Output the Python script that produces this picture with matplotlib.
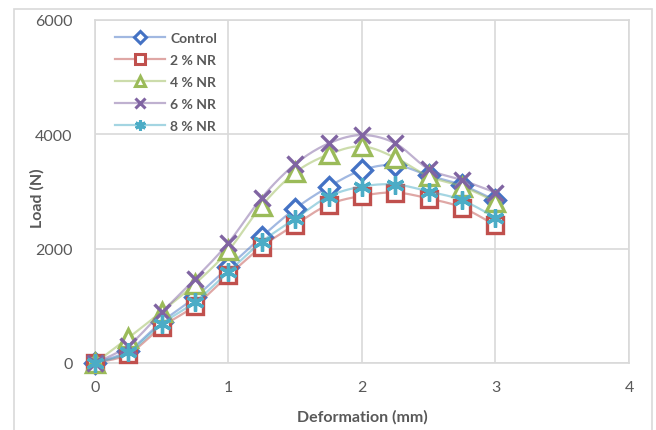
import numpy as np
import matplotlib
matplotlib.use("Agg")
import matplotlib.pyplot as plt
from matplotlib.patches import Rectangle
from matplotlib.lines import Line2D
from matplotlib.legend_handler import HandlerTuple

# ---- data ----
deformation = [0, 0.25, 0.5, 0.75, 1.0, 1.25, 1.5, 1.75, 2.0, 2.25, 2.5, 2.75, 3.0]
control = [0, 216, 719, 1152, 1678, 2210, 2701, 3082, 3374, 3462, 3280, 3110, 2847]
nr2 = [0, 158, 631, 1005, 1532, 2035, 2420, 2771, 2924, 2982, 2877, 2719, 2409]
nr4 = [0, 440, 900, 1386, 1970, 2754, 3333, 3648, 3789, 3590, 3263, 3087, 2824]
nr6 = [0, 304, 889, 1473, 2105, 2894, 3480, 3841, 3987, 3841, 3391, 3198, 2982]
nr8 = [0, 187, 684, 1070, 1596, 2122, 2526, 2912, 3087, 3122, 3000, 2847, 2543]
labels = ["Control", "2 % NR", "4 % NR", "6 % NR", "8 % NR"]
x_ticks = [0, 1, 2, 3, 4]
y_ticks = [0, 2000, 4000, 6000]

series = [control, nr2, nr4, nr6, nr8]
colors = ["#4472C4", "#C0504D", "#9BBB59", "#8064A2", "#4BACC6"]
markers = ["D", "s", "^", "x", (6, 2, 0)]
msizes = [10, 12, 13, 12, 13]

plt.rcParams["font.family"] = ["Lato", "DejaVu Sans"]
gray = "#595959"


def smooth(x, y, n=24):
    x = np.asarray(x, float)
    y = np.asarray(y, float)
    px = np.concatenate([[x[0]], x, [x[-1]]])
    py = np.concatenate([[y[0]], y, [y[-1]]])
    xs, ys = [], []
    for i in range(1, len(px) - 2):
        p0x, p1x, p2x, p3x = px[i - 1], px[i], px[i + 1], px[i + 2]
        p0y, p1y, p2y, p3y = py[i - 1], py[i], py[i + 1], py[i + 2]
        c1x, c1y = p1x + (p2x - p0x) / 6, p1y + (p2y - p0y) / 6
        c2x, c2y = p2x - (p3x - p1x) / 6, p2y - (p3y - p1y) / 6
        t = np.linspace(0, 1, n, endpoint=False)
        b0 = (1 - t) ** 3
        b1 = 3 * (1 - t) ** 2 * t
        b2 = 3 * (1 - t) * t ** 2
        b3 = t ** 3
        xs.append(b0 * p1x + b1 * c1x + b2 * c2x + b3 * p2x)
        ys.append(b0 * p1y + b1 * c1y + b2 * c2y + b3 * p2y)
    xs.append([x[-1]])
    ys.append([y[-1]])
    return np.concatenate(xs), np.concatenate(ys)


fig = plt.figure(figsize=(6.56, 4.31), dpi=100)
ax = fig.add_axes([95 / 656, 1 - 364 / 431, (629 - 95) / 656, (364 - 21) / 431])

# outer chart frame
fig.patches.append(Rectangle((14 / 656, -0.05), (652 - 14) / 656, 1.05 - 10 / 431,
                             transform=fig.transFigure, fill=False,
                             edgecolor="#D9D9D9", linewidth=1.2))

handles = []
for i, (vals, c, m, ms, lab) in enumerate(zip(series, colors, markers, msizes, labels)):
    fc = "white" if m in ("D", "s", "^") else c
    sx, sy = smooth(deformation, vals)
    ax.plot(sx, sy, color=c, alpha=0.5, linewidth=1.6, zorder=3 + 2 * i, clip_on=False)
    ax.plot(deformation, vals, linestyle="none", marker=m, markersize=ms,
            markerfacecolor=fc, markeredgecolor=c, markeredgewidth=2.4,
            zorder=4 + 2 * i, clip_on=False)
    hl = Line2D([], [], color=c, alpha=0.5, linewidth=1.6)
    hm = Line2D([], [], linestyle="none", marker=m, markersize=ms * 0.6,
                markerfacecolor=fc, markeredgecolor=c, markeredgewidth=2.2)
    handles.append((hl, hm))

ax.set_xlim(0, 4)
ax.set_ylim(0, 6000)
ax.set_xticks(x_ticks)
ax.set_yticks(y_ticks)
ax.grid(True, color="#D9D9D9", linewidth=1.2)
ax.set_axisbelow(True)
for s in ax.spines.values():
    s.set_color("#D9D9D9")
    s.set_linewidth(1.2)
ax.tick_params(length=0, labelsize=11.5, labelcolor=gray, pad=12)
ax.tick_params(axis="y", pad=16)
ax.set_xlabel("Deformation (mm)", fontsize=11.5, fontweight="bold", color=gray)
ax.set_ylabel("Load (N)", fontsize=11.5, fontweight="bold", color=gray)
ax.xaxis.set_label_coords(0.5, -(417 - 364) / 343, transform=ax.transAxes)
ax.yaxis.set_label_coords((37 - 95) / 534, (364 - 198) / 343, transform=ax.transAxes)
ax.xaxis.label.set_va("center")
ax.yaxis.label.set_va("center")

leg = ax.legend(handles=handles, labels=labels, loc="upper left",
                bbox_to_anchor=(105 / 656, 1 - 23 / 431),
                bbox_transform=fig.transFigure, frameon=False,
                handler_map={tuple: HandlerTuple(ndivide=1, pad=0)},
                handlelength=3.6, handletextpad=0.4, labelspacing=0.72,
                prop={"size": 10, "weight": "bold"}, borderpad=0.2)
for t in leg.get_texts():
    t.set_color(gray)

fig.savefig("out.png", dpi=100)
